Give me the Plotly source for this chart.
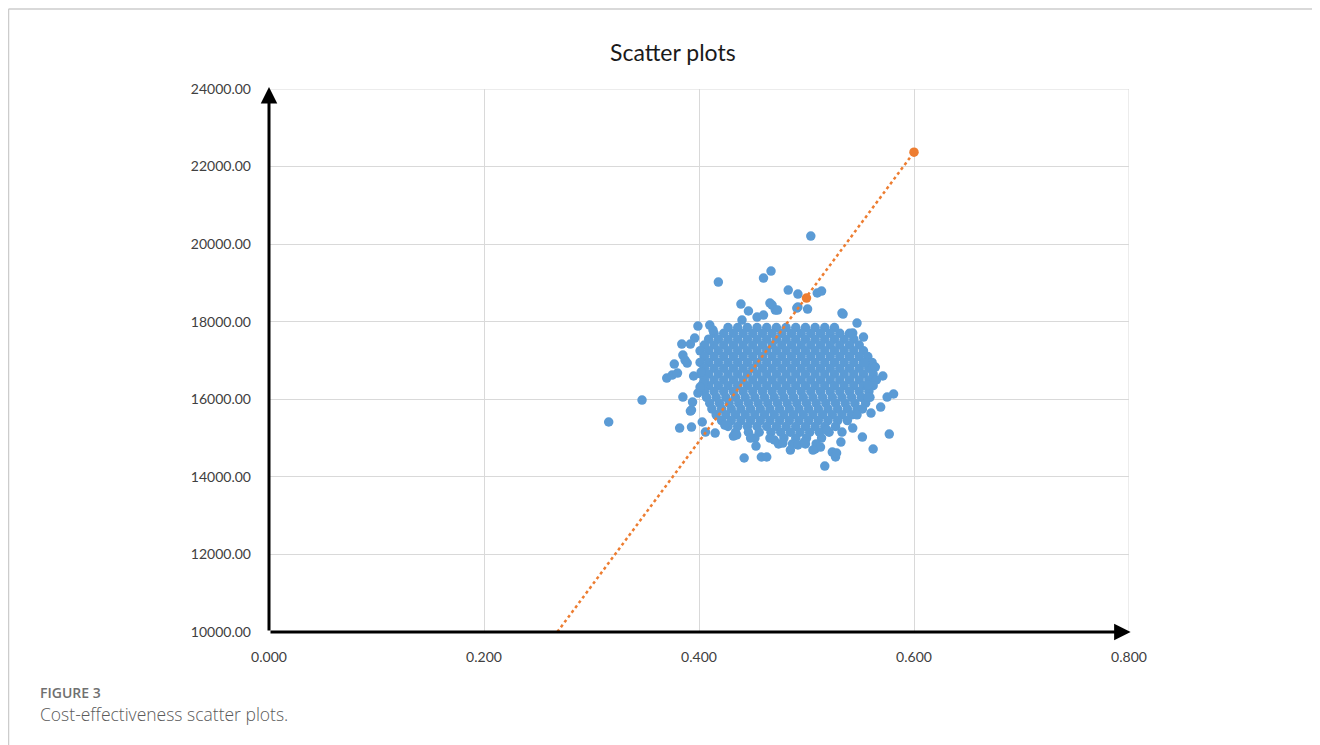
import plotly.graph_objects as go

# ---------------- data ----------------
# dense core of the cloud: one list of effect values per cost row
core_row_cost = [17850, 17700, 17550, 17400, 17250, 17100, 16950, 16800, 16650,
                 16500, 16350, 16200, 16050, 15900, 15750, 15600, 15450, 15300,
                 15150, 15000, 14850]
core_row_effect = [
    [0.427, 0.436, 0.445, 0.454, 0.463, 0.472, 0.481, 0.490, 0.499, 0.508, 0.517, 0.526],
    [0.414, 0.423, 0.432, 0.441, 0.450, 0.459, 0.468, 0.477, 0.486, 0.495, 0.504, 0.513,
     0.522, 0.531, 0.540],
    [0.409, 0.418, 0.427, 0.436, 0.445, 0.454, 0.463, 0.472, 0.481, 0.490, 0.499, 0.508,
     0.517, 0.526, 0.535, 0.544],
    [0.405, 0.414, 0.423, 0.432, 0.441, 0.450, 0.459, 0.468, 0.477, 0.486, 0.495, 0.504,
     0.513, 0.522, 0.531, 0.540, 0.549],
    [0.401, 0.409, 0.418, 0.427, 0.436, 0.445, 0.454, 0.463, 0.472, 0.481, 0.490, 0.499,
     0.508, 0.517, 0.526, 0.535, 0.544, 0.553],
    [0.405, 0.414, 0.423, 0.432, 0.441, 0.450, 0.459, 0.468, 0.477, 0.486, 0.495, 0.504,
     0.513, 0.522, 0.531, 0.540, 0.549, 0.557],
    [0.401, 0.409, 0.418, 0.427, 0.436, 0.445, 0.454, 0.463, 0.472, 0.481, 0.490, 0.499,
     0.508, 0.517, 0.526, 0.535, 0.544, 0.553, 0.561],
    [0.405, 0.414, 0.423, 0.432, 0.441, 0.450, 0.459, 0.468, 0.477, 0.486, 0.495, 0.504,
     0.513, 0.522, 0.531, 0.540, 0.549, 0.558],
    [0.402, 0.409, 0.418, 0.427, 0.436, 0.445, 0.454, 0.463, 0.472, 0.481, 0.490, 0.499,
     0.508, 0.517, 0.526, 0.535, 0.544, 0.553, 0.562],
    [0.405, 0.414, 0.423, 0.432, 0.441, 0.450, 0.459, 0.468, 0.477, 0.486, 0.495, 0.504,
     0.513, 0.522, 0.531, 0.540, 0.549, 0.558, 0.565],
    [0.403, 0.409, 0.418, 0.427, 0.436, 0.445, 0.454, 0.463, 0.472, 0.481, 0.490, 0.499,
     0.508, 0.517, 0.526, 0.535, 0.544, 0.553, 0.562],
    [0.405, 0.414, 0.423, 0.432, 0.441, 0.450, 0.459, 0.468, 0.477, 0.486, 0.495, 0.504,
     0.513, 0.522, 0.531, 0.540, 0.549, 0.558],
    [0.407, 0.416, 0.425, 0.434, 0.443, 0.452, 0.461, 0.470, 0.479, 0.488, 0.497, 0.506,
     0.515, 0.524, 0.533, 0.542, 0.551, 0.559],
    [0.410, 0.419, 0.428, 0.437, 0.446, 0.455, 0.464, 0.473, 0.482, 0.491, 0.500, 0.509,
     0.518, 0.527, 0.536, 0.545, 0.555],
    [0.412, 0.421, 0.430, 0.439, 0.448, 0.457, 0.466, 0.475, 0.484, 0.493, 0.502, 0.511,
     0.520, 0.529, 0.538, 0.547, 0.552],
    [0.416, 0.425, 0.434, 0.443, 0.452, 0.461, 0.470, 0.479, 0.488, 0.497, 0.506, 0.515,
     0.524, 0.533, 0.542, 0.547],
    [0.421, 0.430, 0.439, 0.448, 0.457, 0.466, 0.475, 0.484, 0.493, 0.502, 0.511, 0.520,
     0.529, 0.538],
    [0.427, 0.436, 0.445, 0.454, 0.463, 0.472, 0.481, 0.490, 0.499, 0.508, 0.517, 0.527],
    [0.434, 0.446, 0.456, 0.467, 0.476, 0.485, 0.494, 0.503, 0.512, 0.521],
    [0.452, 0.466, 0.479, 0.490, 0.500, 0.514],
    [0.474, 0.487, 0.499, 0.509],
]

# scattered points around the core
edge_effect = [0.316, 0.347, 0.418, 0.504, 0.467, 0.460, 0.483, 0.492, 0.510, 0.514,
               0.492, 0.466, 0.471, 0.533, 0.547, 0.439, 0.446, 0.440, 0.454, 0.399,
               0.410, 0.413, 0.396, 0.384, 0.392, 0.385, 0.387, 0.377, 0.370, 0.375,
               0.380, 0.395, 0.402, 0.404, 0.385, 0.399, 0.394, 0.393, 0.382, 0.393,
               0.403, 0.406, 0.415, 0.424, 0.432, 0.435, 0.442, 0.453, 0.458, 0.463,
               0.517, 0.562, 0.577, 0.552, 0.543, 0.533, 0.532, 0.527, 0.524, 0.508,
               0.513, 0.519, 0.485, 0.492, 0.478, 0.506, 0.528, 0.571, 0.581, 0.575,
               0.569, 0.560, 0.557, 0.564, 0.554, 0.557, 0.553, 0.543, 0.534, 0.468,
               0.473, 0.501, 0.491, 0.460, 0.389, 0.401, 0.392, 0.470, 0.498, 0.448]
edge_cost = [15414, 15981, 19023, 20209, 19307, 19126, 18817, 18714, 18740, 18791,
             18379, 18482, 18301, 18224, 17966, 18456, 18276, 18043, 18121, 17889,
             17914, 17786, 17579, 17425, 17425, 17141, 17012, 16909, 16548, 16625,
             16677, 16600, 16703, 16419, 16058, 16161, 15929, 15723, 15259, 15285,
             15414, 15156, 15130, 15336, 15053, 15079, 14486, 14795, 14512, 14512,
             14279, 14718, 15104, 15027, 15259, 15156, 14898, 14512, 14640, 14718,
             14769, 15207, 14692, 14821, 14872, 14692, 14615, 16600, 16136, 16058,
             15800, 15646, 16367, 16832, 16935, 16058, 17605, 17708, 18198, 18430,
             18301, 18327, 18353, 18172, 16935, 16316, 15697, 14950, 14900, 15000]

# highlighted points and threshold line
mean_effect = [0.500, 0.600]
mean_cost = [18610, 22370]
wtp_effect = [0.2682, 0.600]
wtp_cost = [10000, 22370]

x_ticks = [0.0, 0.2, 0.4, 0.6, 0.8]
y_ticks = [10000, 12000, 14000, 16000, 18000, 20000, 22000, 24000]

# ---------------- figure ----------------
cloud_x, cloud_y = [], []
for c, xs in zip(core_row_cost, core_row_effect):
    cloud_x.extend(xs)
    cloud_y.extend([c] * len(xs))
cloud_x.extend(edge_effect)
cloud_y.extend(edge_cost)

BLUE = "#5B9BD5"
ORANGE = "#ED7D31"
MS = 9.5

fig = go.Figure()
fig.add_trace(go.Scatter(x=cloud_x, y=cloud_y, mode="markers",
                         marker=dict(size=MS, color=BLUE, line=dict(width=0)),
                         showlegend=False, cliponaxis=False))
fig.add_trace(go.Scatter(x=wtp_effect, y=wtp_cost, mode="lines",
                         line=dict(color=ORANGE, width=2.5, dash="dot"),
                         showlegend=False))
fig.add_trace(go.Scatter(x=mean_effect, y=mean_cost, mode="markers",
                         marker=dict(size=MS, color=ORANGE, line=dict(width=0)),
                         showlegend=False, cliponaxis=False))

tick_font = dict(family="Lato, Open Sans, sans-serif", size=14, color="#404040")

fig.update_xaxes(range=[0, 0.8], tickvals=x_ticks,
                 ticktext=[f"{v:.3f}" for v in x_ticks],
                 showgrid=True, gridcolor="#d9d9d9", gridwidth=1,
                 zeroline=False, showline=False, ticks="",
                 tickfont=tick_font, ticklabelstandoff=15)
fig.update_yaxes(range=[10000, 24000], tickvals=y_ticks,
                 ticktext=[f"{v:.2f}" for v in y_ticks],
                 showgrid=True, gridcolor="#d9d9d9", gridwidth=1,
                 zeroline=False, showline=False, ticks="",
                 tickfont=tick_font, ticklabelstandoff=17)

# figure geometry (the page adds an 8 px body margin)
W, H = 1312, 737
L, T = 261, 81
PW, PH = 860, 543


def px(fx):
    return (fx - L) / PW


def py(fy):
    return (T + PH - fy) / PH


# plot-edge grid lines and outer frame
fig.add_shape(type="line", xref="x", yref="y", x0=0, x1=0.8, y0=24000, y1=24000,
              line=dict(color="#d9d9d9", width=1), layer="below")
fig.add_shape(type="line", xref="x", yref="y", x0=0.8, x1=0.8, y0=10000, y1=24000,
              line=dict(color="#d9d9d9", width=1), layer="below")
fig.add_shape(type="line", xref="paper", yref="paper",
              x0=px(0.5), x1=px(W), y0=py(1), y1=py(1),
              line=dict(color="#cccccc", width=1.5))
fig.add_shape(type="line", xref="paper", yref="paper",
              x0=px(0.5), x1=px(0.5), y0=py(1), y1=py(H),
              line=dict(color="#cccccc", width=1.5))

# black axes with arrow heads
fig.add_annotation(x=0.8015, y=10000, ax=0, ay=10000, xref="x", yref="y",
                   axref="x", ayref="y", showarrow=True, text="",
                   arrowhead=2, arrowsize=1.1, arrowwidth=3, arrowcolor="black")
fig.add_annotation(x=0, y=24050, ax=0, ay=10000, xref="x", yref="y",
                   axref="x", ayref="y", showarrow=True, text="",
                   arrowhead=2, arrowsize=1.1, arrowwidth=3, arrowcolor="black")

# title and caption
fig.add_annotation(text="Scatter plots", xref="paper", yref="paper",
                   x=px(665), y=py(44), showarrow=False,
                   xanchor="center", yanchor="middle",
                   font=dict(family="Lato, Open Sans, sans-serif", size=23, color="#1a1a1a"))
fig.add_annotation(text="FIGURE 3", xref="paper", yref="paper",
                   x=px(31), y=py(684), showarrow=False,
                   xanchor="left", yanchor="middle", borderpad=0,
                   font=dict(family="Open Sans, sans-serif", size=14, color="#707070",
                             weight=600))
fig.add_annotation(text="Cost-effectiveness scatter plots.", xref="paper", yref="paper",
                   x=px(31), y=py(706), showarrow=False,
                   xanchor="left", yanchor="middle", borderpad=0,
                   font=dict(family="Open Sans, sans-serif", size=17.5, color="#5a5a5a",
                             weight=300))

fig.update_layout(width=W, height=H,
                  margin=dict(l=L, r=W - L - PW, t=T, b=H - T - PH),
                  paper_bgcolor="white", plot_bgcolor="white",
                  showlegend=False)

fig.write_html("out.html")
